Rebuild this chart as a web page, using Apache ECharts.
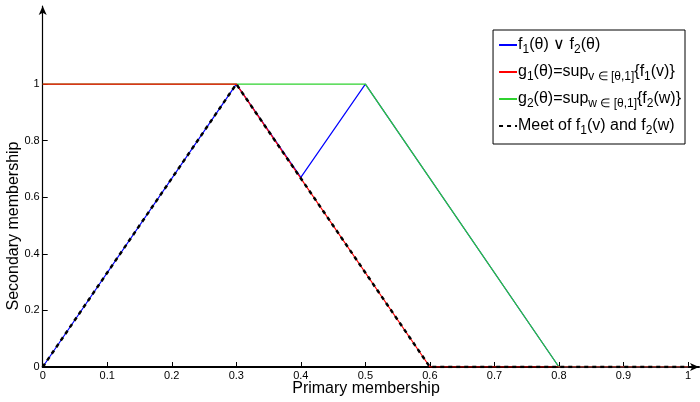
<!DOCTYPE html>
<html><head><meta charset="utf-8">
<script src="https://cdn.jsdelivr.net/npm/echarts@6/dist/echarts.min.js"></script>
<style>html,body{margin:0;padding:0;background:#fff}#c{width:700px;height:402px}</style>
</head><body><div id="c"></div>
<script>
const xTicks = [0,0.1,0.2,0.3,0.4,0.5,0.6,0.7,0.8,0.9,1];
const yTicks = [0,0.2,0.4,0.6,0.8,1];
const joinX = [0,0.3,0.4,0.5,0.8,1];
const joinY = [0,1,0.67,1,0,0];
const g1X = [0,0.3,0.6,1];
const g1Y = [1,1,0,0];
const g2X = [0,0.5,0.8,1];
const g2Y = [1,1,0,0];
const meetX = [0,0.3,0.6,1];
const meetY = [0,1,0,0];
const names = ['join','g1','g2','meet'];

function pairs(xs, ys){ return xs.map((x,i)=>[x,ys[i]]); }

const chart = echarts.init(document.getElementById('c'), null, {renderer:'canvas'});
const fontFam = 'Liberation Sans, Arial, sans-serif';
const legendLabels = {
  join: 'f{sub|1}(θ) ∨ f{sub|2}(θ)',
  g1: 'g{sub|1}(θ)=sup{sub|v ∈ [θ,1]}{f{sub|1}(v)}',
  g2: 'g{sub|2}(θ)=sup{sub|w ∈ [θ,1]}{f{sub|2}(w)}',
  meet: 'Meet of f{sub|1}(v) and f{sub|2}(w)'
};
chart.setOption({
  animation:false,
  backgroundColor:'#fff',
  grid:{left:42.7, right:1, top:6, bottom:35, containLabel:false},
  xAxis:{
    type:'value', min:0, max:1.017,
    axisLine:{show:true, lineStyle:{color:'#000', width:2}, symbol:['none','arrow'], symbolSize:[6,9]},
    axisTick:{show:true, inside:true, length:5, customValues:xTicks, lineStyle:{color:'#000'}},
    axisLabel:{customValues:xTicks, color:'#000', fontSize:11, fontFamily:fontFam, margin:3, formatter:v=>String(v)},
    splitLine:{show:false}
  },
  yAxis:{
    type:'value', min:0, max:1.276,
    axisLine:{show:true, lineStyle:{color:'#000', width:1.2}, symbol:['none','arrow'], symbolSize:[6,9]},
    axisTick:{show:true, inside:true, length:5, customValues:yTicks, lineStyle:{color:'#000'}},
    axisLabel:{customValues:yTicks, color:'#000', fontSize:11, fontFamily:fontFam, margin:3, formatter:v=>String(v)},
    splitLine:{show:false}
  },
  legend:{
    orient:'vertical', right:15, top:30,
    backgroundColor:'#fff', borderColor:'#000', borderWidth:1, borderRadius:0,
    padding:[5,4,7,5], itemGap:6, itemWidth:18, itemHeight:10,
    data:names,
    itemStyle:{opacity:0},
    formatter:n=>legendLabels[n],
    textStyle:{color:'#000', fontSize:16, fontFamily:fontFam, lineHeight:20, padding:[0,0,0,-4],
      rich:{sub:{fontSize:12, fontFamily:fontFam, color:'#000', padding:[10,0,0,0]}}}
  },
  series:[
    {name:'join', type:'line', data:pairs(joinX,joinY), symbol:'none', z:2, color:'#0000ff', lineStyle:{color:'#0000ff', width:1.2}},
    {name:'g1', type:'line', data:pairs(g1X,g1Y), symbol:'none', z:4, color:'#ff0000', lineStyle:{color:'#ff0000', width:1.2}},
    {name:'g2', type:'line', data:pairs(g2X,g2Y), symbol:'none', z:3, color:'#2fd22f', lineStyle:{color:'#2fd22f', width:1.2}},
    {name:'meet', type:'line', data:pairs(meetX,meetY), symbol:'none', z:5, color:'#000', lineStyle:{color:'#000', width:2.5, type:[4,4]}}
  ],
  graphic:[
    {type:'text', x:366, y:381, style:{text:'Primary membership', fill:'#000', font:'16px Liberation Sans, Arial, sans-serif', align:'center', verticalAlign:'top'}},
    {type:'text', x:6, y:226, rotation:Math.PI/2, style:{text:'Secondary membership', fill:'#000', font:'16px Liberation Sans, Arial, sans-serif', align:'center', verticalAlign:'top'}}
  ]
});
</script></body></html>
